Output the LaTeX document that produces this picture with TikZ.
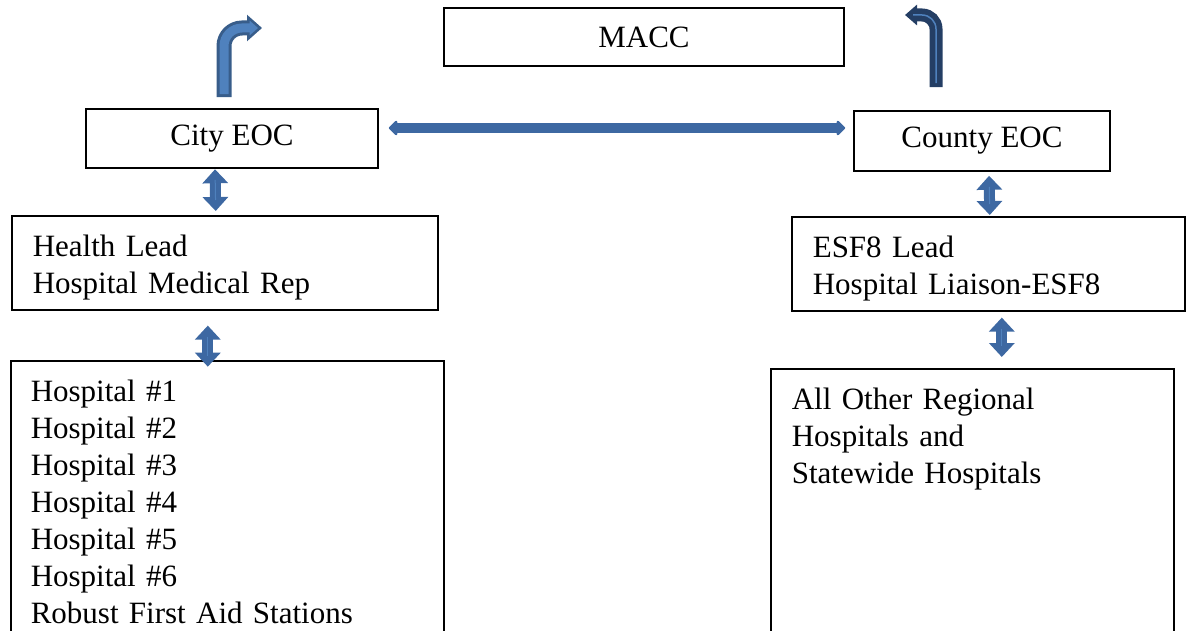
\documentclass[tikz,border=0pt]{standalone}
\usepackage{fontspec}
\setmainfont{Liberation Serif}
\usetikzlibrary{arrows.meta}
\definecolor{bb}{RGB}{61, 104, 162}
\definecolor{dd}{RGB}{56, 93, 138}
\definecolor{ll}{RGB}{79, 129, 189}
\definecolor{nn}{RGB}{36, 62, 100}
\newcommand\boxfont{\fontsize{31pt}{37pt}\selectfont}
\tikzset{
  box/.style={draw, line width=1.6pt, font=\boxfont},
  listbox/.style={box, anchor=north west, align=left, inner xsep=21pt, inner ysep=18.5pt, text height=22pt},
  vdbl/.style={line width=11pt, color=bb, {Triangle[width=25pt,length=14pt]}-{Triangle[width=25pt,length=14pt]}},
  hdbl/.style={line width=10pt, color=bb, {Triangle[width=17pt,length=9pt,round]}-{Triangle[width=17pt,length=9pt,round]}},
  midl/.style={line width=1pt, color=ll}
}

\begin{document}
\begin{tikzpicture}[x=1pt, y=-1pt]
\useasboundingbox (0,0) rectangle (1186,631);
\node (macc) [box, minimum width=400pt, minimum height=58pt] at (644, 37) {MACC};
\node (city) [box, minimum width=292pt, minimum height=59pt] at (232, 138.5) {City EOC};
\node (county) [box, minimum width=256pt, minimum height=60pt] at (982, 141) {County EOC};
\node (health) [listbox, text width=384pt, text depth=35pt] at (11, 215) {Health Lead\\Hospital Medical Rep};
\node (esf) [listbox, text width=351pt, text depth=35pt] at (791, 216) {ESF8 Lead\\Hospital Liaison-ESF8};
\node (hosp) [listbox, inner xsep=20pt, text width=393pt, text depth=242pt] at (10, 360) {Hospital \#1\\Hospital \#2\\Hospital \#3\\Hospital \#4\\Hospital \#5\\Hospital \#6\\Robust First Aid Stations};
\node (others) [listbox, text width=361pt, text depth=232pt] at (770, 368) {All Other Regional\\Hospitals and\\Statewide Hospitals};
\coordinate (cityup) at (262, 28);
\coordinate (countyup) at (905, 15);
% up to the MACC
\draw [line width=15pt, color=dd, rounded corners=18pt, -{Triangle[width=26pt,length=15pt,line width=2.5pt,fill=ll]}] ([xshift=-8pt,yshift=11pt]city.north) |- (cityup);
\draw [line width=9pt, color=ll, rounded corners=18pt, shorten <=3pt, shorten >=10pt] ([xshift=-8pt,yshift=11pt]city.north) |- (cityup);
\draw [line width=13pt, color=nn, rounded corners=14pt, -{Triangle[width=20pt,length=12pt]}] ([xshift=-46pt,yshift=23pt]county.north) |- (countyup);
\draw [line width=1.5pt, color=ll, rounded corners=14pt, shorten <=4pt, shorten >=8pt] ([xshift=-46pt,yshift=23pt]county.north) |- (countyup);
% between the EOCs
\draw [hdbl, shorten <=10pt, shorten >=8pt] ([yshift=10.5pt]city.east) -- ([yshift=13pt]county.west);
% down the columns
\draw [vdbl, shorten <=0.5pt, shorten >=4pt] ([xshift=-17pt]city.south) -- ([xshift=-9pt]health.north);
\draw [midl, shorten <=11pt, shorten >=15pt] ([xshift=-17pt]city.south) -- ([xshift=-9pt]health.north);
\draw [vdbl, shorten <=15pt, shorten >=-6.7pt] ([xshift=-17pt]health.south) -- ([xshift=-19.5pt]hosp.north);
\draw [midl, shorten <=26pt, shorten >=4pt] ([xshift=-17pt]health.south) -- ([xshift=-19.5pt]hosp.north);
\draw [vdbl, shorten <=4pt, shorten >=1pt] ([xshift=7pt]county.south) -- ([xshift=1.5pt]esf.north);
\draw [midl, shorten <=15pt, shorten >=12pt] ([xshift=7pt]county.south) -- ([xshift=1.5pt]esf.north);
\draw [vdbl, shorten <=6pt, shorten >=11pt] ([xshift=13.5pt]esf.south) -- ([xshift=29.5pt]others.north);
\draw [midl, shorten <=17pt, shorten >=22pt] ([xshift=13.5pt]esf.south) -- ([xshift=29.5pt]others.north);
\end{tikzpicture}
\end{document}
